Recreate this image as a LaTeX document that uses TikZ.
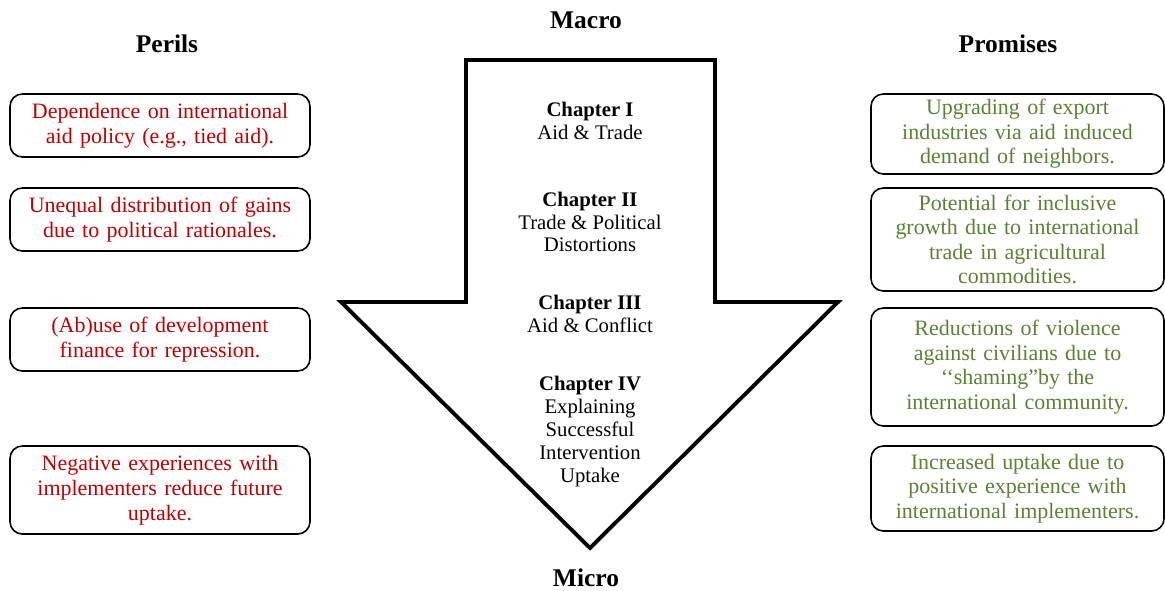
\documentclass[tikz,border=0pt]{standalone}
\usepackage{fontspec}
\setmainfont{Liberation Serif}
\usepackage{xcolor}
\usepackage{tikz}
\definecolor{perilred}{RGB}{192,0,0}
\definecolor{promisegreen}{RGB}{90,130,50}

\begin{document}
\begin{tikzpicture}[
            peril/.style={draw, line width=0.9pt, rounded corners=7pt, text=perilred, align=center,
                text width=5.8cm, minimum width=6cm, inner sep=0pt, font=\fontsize{12.5}{14.3}\selectfont},
            promise/.style={draw, line width=0.9pt, rounded corners=7pt, text=promisegreen, align=center,
                text width=5.7cm, minimum width=5.86cm, inner sep=0pt, font=\fontsize{12.5}{13.9}\selectfont},
            chap/.style={align=center, font=\fontsize{11.8}{13}\selectfont},
            heading/.style={font=\fontsize{14.5}{16}\selectfont\bfseries}]
        \useasboundingbox (0,0) rectangle (23.3,-11.8);

        % big arrow from macro to micro
        \draw[line width=2.2pt, miter limit=4] (9.32,-1.2) -- (14.3,-1.2) -- (14.3,-6.04) -- (16.76,-6.04)
            -- (11.8,-10.96) -- (6.82,-6.04) -- (9.32,-6.04) -- cycle;

        \node[heading] (macro) at (11.72,-0.4) {Macro};
        \node[heading] (micro) at (11.72,-11.56) {Micro};
        \node[heading] (perils) at (3.34,-0.88) {Perils};
        \node[heading] (promises) at (20.16,-0.88) {Promises};

        \node[chap] (chapI) at (11.8,-2.41) {\textbf{Chapter I}\\Aid \& Trade};
        \node[chap] (chapII) at (11.8,-4.44) {\textbf{Chapter II}\\Trade \& Political\\Distortions};
        \node[chap] (chapIII) at (11.8,-6.27) {\textbf{Chapter III}\\Aid \& Conflict};
        \node[chap] (chapIV) at (11.8,-8.63) {\textbf{Chapter IV}\\Explaining\\Successful\\Intervention\\Uptake};

        % perils
        \node[peril, minimum height=1.26cm] (perilI) at (3.2,-2.51) {Dependence on international\\aid policy (e.g., tied aid).};
        \node[peril, minimum height=1.26cm] (perilII) at (3.2,-4.39) {Unequal distribution of gains\\due to political rationales.};
        \node[peril, minimum height=1.26cm] (perilIII) at (3.2,-6.79) {(Ab)use of development\\finance for repression.};
        \node[peril, minimum height=1.76cm] (perilIV) at (3.2,-9.8) {Negative experiences with\\implementers reduce future\\uptake.};

        % promises
        \node[promise, minimum height=1.6cm] (promiseI) at (20.35,-2.68) {Upgrading of export\\industries via aid induced\\demand of neighbors.};
        \node[promise, minimum height=2.06cm] (promiseII) at (20.35,-4.79) {Potential for inclusive\\growth due to international\\trade in agricultural\\commodities.};
        \node[promise, minimum height=2.36cm] (promiseIII) at (20.35,-7.34) {Reductions of violence\\against civilians due to\\\symbol{96}\symbol{96}shaming”by the\\international community.};
        \node[promise, minimum height=1.7cm] (promiseIV) at (20.35,-9.77) {Increased uptake due to\\positive experience with\\international implementers.};
    \end{tikzpicture}
\end{document}
